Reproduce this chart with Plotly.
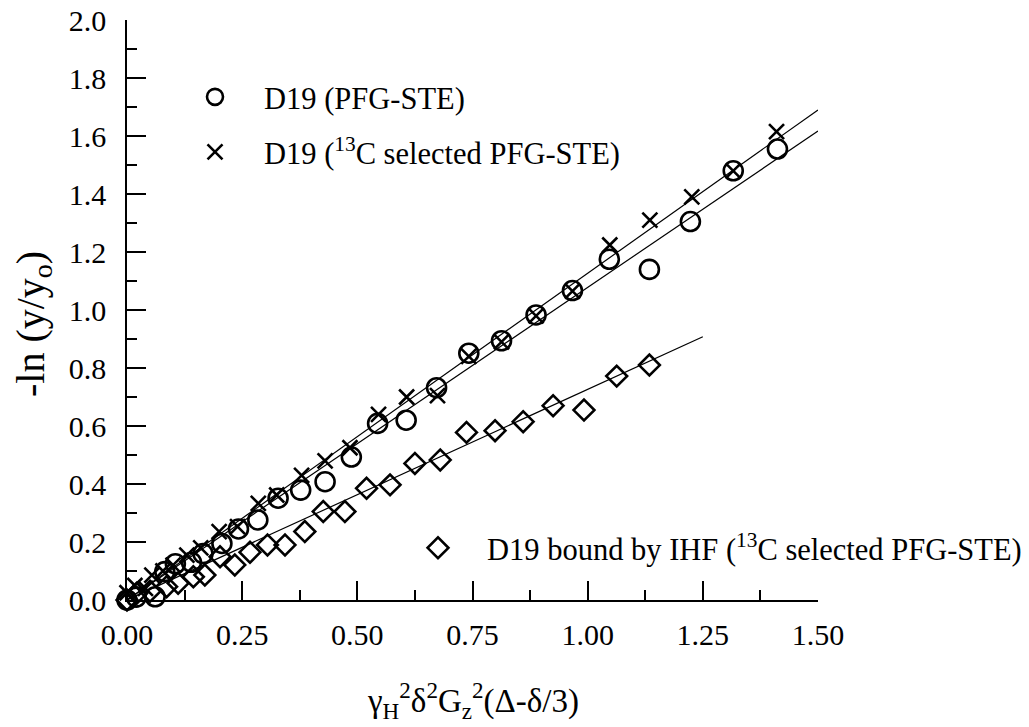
import plotly.graph_objects as go

# PFG-STE (circles)
circ_x = [0.0, 0.02, 0.061, 0.082, 0.105, 0.14, 0.165, 0.206, 0.242, 0.284, 0.328, 0.377, 0.430,
          0.487, 0.544, 0.606, 0.672, 0.742, 0.813, 0.888, 0.967, 1.047, 1.134, 1.223, 1.316, 1.412]
circ_y = [0.0, 0.01, 0.011, 0.098, 0.125, 0.13, 0.16, 0.195, 0.245, 0.276, 0.351, 0.379, 0.408,
          0.493, 0.609, 0.62, 0.732, 0.851, 0.894, 0.983, 1.067, 1.175, 1.14, 1.305, 1.48, 1.555]

# 13C selected PFG-STE (crosses)
cross_x = [0.0, 0.017, 0.04, 0.054, 0.078, 0.10, 0.13, 0.16, 0.20, 0.24, 0.285, 0.325, 0.379, 0.43,
           0.484, 0.546, 0.607, 0.674, 0.742, 0.813, 0.888, 0.967, 1.048, 1.135, 1.226, 1.316, 1.410]
cross_y = [0.025, 0.05, 0.04, 0.086, 0.10, 0.12, 0.155, 0.18, 0.236, 0.253, 0.333, 0.362, 0.43, 0.48,
           0.525, 0.64, 0.70, 0.705, 0.84, 0.89, 0.98, 1.065, 1.224, 1.31, 1.39, 1.48, 1.615]

# D19 bound by IHF (diamonds)
diam_x = [0.0, 0.021, 0.05, 0.086, 0.111, 0.144, 0.169, 0.202, 0.234, 0.267, 0.305, 0.343, 0.386,
          0.426, 0.473, 0.520, 0.571, 0.625, 0.680, 0.737, 0.799, 0.860, 0.925, 0.992, 1.063, 1.134]
diam_y = [0.0, 0.023, 0.03, 0.046, 0.058, 0.08, 0.086, 0.149, 0.121, 0.165, 0.19, 0.19, 0.236,
          0.305, 0.305, 0.385, 0.397, 0.471, 0.483, 0.578, 0.584, 0.615, 0.670, 0.655, 0.772, 0.810]

# linear fits
fit_circ_x = [0.0, 1.5]
fit_circ_y = [0.0, 1.617]
fit_cross_x = [0.0, 1.5]
fit_cross_y = [0.0, 1.69]
fit_diam_x = [0.0, 1.25]
fit_diam_y = [0.0, 0.908]

names = ["D19 (PFG-STE)",
         "D19 (<sup>13</sup>C selected PFG-STE)",
         "D19 bound by IHF (<sup>13</sup>C selected PFG-STE)"]

FONT = "Liberation Serif"
fig = go.Figure()

for fx, fy in [(fit_circ_x, fit_circ_y), (fit_cross_x, fit_cross_y), (fit_diam_x, fit_diam_y)]:
    fig.add_trace(go.Scatter(x=fx, y=fy, mode="lines", line=dict(color="black", width=1.2),
                             showlegend=False, hoverinfo="skip"))

fig.add_trace(go.Scatter(x=circ_x, y=circ_y, mode="markers", name=names[0], legend="legend",
                         marker=dict(symbol="circle-open", size=19, color="black", line=dict(width=2.6, color="black")),
                         cliponaxis=False))
fig.add_trace(go.Scatter(x=cross_x, y=cross_y, mode="markers", name=names[1], legend="legend2",
                         marker=dict(symbol="x-thin-open", size=15, color="black", line=dict(width=2.6, color="black")),
                         cliponaxis=False))
fig.add_trace(go.Scatter(x=diam_x, y=diam_y, mode="markers", name=names[2], legend="legend3",
                         marker=dict(symbol="diamond-open", size=16, color="black", line=dict(width=2.6, color="black")),
                         cliponaxis=False))

# page body margin removed by post_script, so the figure fills the window
W, H = 1029, 727
# plot frame in page pixels: x 127..818, y 20..600
L, T = 127, 20
R, B = W - 818, H - 600
pw, ph = W - L - R, H - T - B

def px2paper(px, py):
    return (px - L) / pw, (H - B - py) / ph

legfont = dict(family=FONT, size=30.5, color="black")
def leg(px, py):
    x, y = px2paper(px, py)
    return dict(x=x, y=y, xanchor="left", yanchor="middle", font=legfont, bgcolor="rgba(0,0,0,0)",
                itemwidth=88, borderwidth=0)

axis_common = dict(showline=True, linecolor="black", linewidth=1.5, ticks="inside", ticklen=19,
                   tickwidth=1.5, tickcolor="black", showgrid=False, zeroline=False, automargin=False,
                   ticklabeloverflow="allow",
                   tickfont=dict(family=FONT, size=30, color="black"), mirror=False)

fig.update_layout(
    width=W, height=H, margin=dict(l=L, r=R, t=T, b=B, autoexpand=False),
    paper_bgcolor="white", plot_bgcolor="white",
    showlegend=True,
    legend=leg(166, 97), legend2=leg(166, 152), legend3=leg(389, 548),
    xaxis=dict(range=[0, 1.5], tickvals=[0, 0.25, 0.5, 0.75, 1.0, 1.25, 1.5], tickformat=".2f",
               minor=dict(ticks="inside", ticklen=10, tickwidth=1.5, tickcolor="black", dtick=0.125, tick0=0, showgrid=False),
               ticklabelstandoff=7, **axis_common),
    yaxis=dict(range=[0, 2.0], dtick=0.2, tickformat=".1f",
               minor=dict(ticks="inside", ticklen=10, tickwidth=1.5, tickcolor="black", dtick=0.1, tick0=0, showgrid=False),
               ticklabelstandoff=13, **axis_common),
    annotations=[
        dict(text="-ln (y/y<sub>o</sub>)", xref="paper", yref="paper", x=px2paper(33, 0)[0], y=px2paper(0, 324)[1],
             textangle=-90, showarrow=False, xanchor="center", yanchor="middle",
             font=dict(family=FONT, size=40, color="black")),
        dict(text="γ<sub>H</sub><sup>2</sup>δ<sup>2</sup>G<sub>z</sub><sup>2</sup>(Δ-δ/3)", xref="paper", yref="paper",
             x=0.5, y=px2paper(0, 700)[1], showarrow=False, xanchor="center", yanchor="middle",
             font=dict(family=FONT, size=33, color="black")),
    ],
)

fig.write_html("out.html", config={"displayModeBar": False},
               post_script="document.body.style.margin='0';document.body.style.overflow='hidden';")
